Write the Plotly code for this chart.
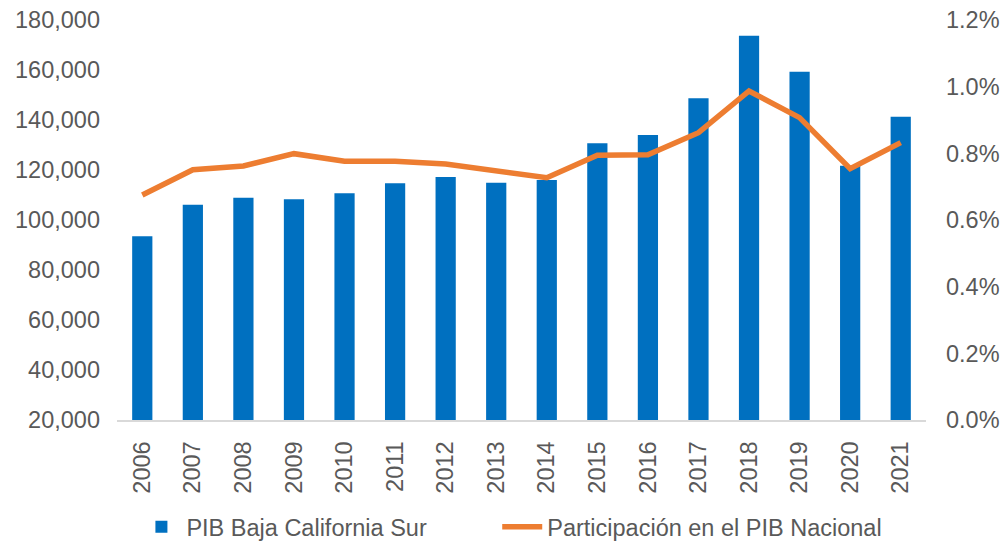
import plotly.graph_objects as go

years = [str(y) for y in range(2006, 2022)]
pib = [93500, 106100, 108900, 108300, 110700, 114700, 117200, 114900,
       116000, 130700, 134000, 148700, 173700, 159300, 121700, 141300]
participacion = [0.675, 0.751, 0.762, 0.799, 0.776, 0.776, 0.768, 0.746,
                 0.727, 0.794, 0.796, 0.862, 0.987, 0.907, 0.754, 0.832]
part_frac = [p / 100 for p in participacion]

FONT = "Liberation Sans, Arial, sans-serif"
FS = 23.5
GREY = "#595959"

fig = go.Figure()
fig.add_trace(go.Bar(x=years, y=pib, name="PIB Baja California Sur",
                     marker=dict(color="#0070C0", line=dict(width=0)), yaxis="y",
                     legend="legend"))
fig.add_trace(go.Scatter(x=years, y=part_frac, name="Participación en el PIB Nacional",
                         mode="lines", line=dict(color="#ED7D31", width=5.5), yaxis="y2",
                         legend="legend2"))

leg_common = dict(orientation="h", xanchor="left", y=-0.2675, yanchor="middle",
                  font=dict(family=FONT, size=FS, color=GREY), itemwidth=40,
                  bgcolor="rgba(0,0,0,0)")

fig.update_layout(
    width=1004, height=542,
    margin=dict(l=117, r=78, t=20, b=122, autoexpand=False),
    paper_bgcolor="white", plot_bgcolor="white",
    font=dict(family=FONT, size=FS, color=GREY),
    bargap=0.6,
    showlegend=True,
    legend=dict(x=0.024, **leg_common),
    legend2=dict(x=0.47, **leg_common),
    xaxis=dict(type="category", tickangle=-90, showgrid=False, showline=True,
               linecolor="#D9D9D9", linewidth=2, ticks="", ticklabelstandoff=10,
               automargin=False,
               tickfont=dict(family=FONT, size=FS, color=GREY)),
    yaxis=dict(range=[20000, 180000], dtick=20000, tickformat=",", showgrid=False,
               zeroline=False, showline=False, ticks="", ticklabelstandoff=16,
               automargin=False,
               tickfont=dict(family=FONT, size=FS, color=GREY)),
    yaxis2=dict(range=[0, 0.012], dtick=0.002, tickformat=".1%", overlaying="y",
                side="right", showgrid=False, zeroline=False, showline=False, ticks="",
                ticklabelstandoff=19, automargin=False,
                tickfont=dict(family=FONT, size=FS, color=GREY)),
)

fig.write_html("out.html", config={"displayModeBar": False},
               post_script="document.body.style.margin='0';document.body.style.overflow='hidden';")
